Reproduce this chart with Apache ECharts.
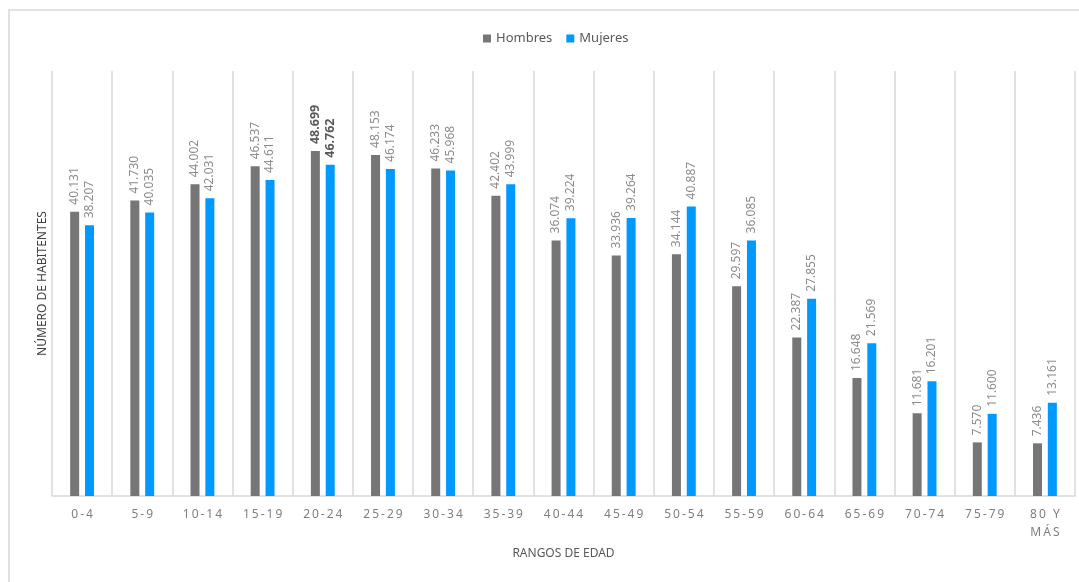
<!DOCTYPE html>
<html><head><meta charset="utf-8">
<script src="https://cdn.jsdelivr.net/npm/echarts@6/dist/echarts.min.js"></script>
<style>html,body{margin:0;padding:0;background:#fff}#c{width:1079px;height:582px}</style>
</head><body><div id="c"></div>
<script>
const categories = ['0-4','5-9','10-14','15-19','20-24','25-29','30-34','35-39','40-44','45-49','50-54','55-59','60-64','65-69','70-74','75-79','80 Y\nMÁS'];
const hombres = [40131,41730,44002,46537,48699,48153,46233,42402,36074,33936,34144,29597,22387,16648,11681,7570,7436];
const mujeres = [38207,40035,42031,44611,46762,46174,45968,43999,39224,39264,40887,36085,27855,21569,16201,11600,13161];
const highlightIndex = 4;

const FONT = 'Noto Sans';
function fmt(v){ return String(v).replace(/\B(?=(\d{3})+(?!\d))/g, '.'); }
function spaced(s){ return s.split('\n').map(l => l.split('').join('\u2009')).join('\n'); }
function mkData(arr){
  return arr.map((v,i) => i === highlightIndex
    ? {value:v, label:{fontWeight:'bold', color:'#595959', fontSize:12.5}}
    : v);
}
const labelCfg = {
  show:true, position:'top', rotate:90, align:'left', verticalAlign:'middle',
  distance:7, color:'#8c8c8c', fontFamily:FONT, fontSize:12,
  formatter: p => fmt(p.value)
};
const chart = echarts.init(document.getElementById('c'));
chart.setOption({
  animation:false,
  backgroundColor:'#fff',
  graphic:[{type:'rect', shape:{x:9, y:10, width:1200, height:700}, style:{fill:'none', stroke:'#d9d9d9', lineWidth:1.5}, silent:true}],
  legend:{
    top:27, left:478, itemWidth:8, itemHeight:8, itemGap:14,
    textStyle:{color:'#595959', fontFamily:FONT, fontSize:13},
    data:[{name:'Hombres', icon:'rect'},{name:'Mujeres', icon:'rect'}]
  },
  grid:{left:52, right:4, top:71, bottom:86},
  xAxis:{
    type:'category', data:categories,
    name:'RANGOS DE EDAD', nameLocation:'middle', nameGap:52,
    nameTextStyle:{color:'#595959', fontFamily:FONT, fontSize:12},
    axisLine:{lineStyle:{color:'#d9d9d9', width:1.5}},
    axisTick:{show:false},
    splitLine:{show:true, lineStyle:{color:'#d9d9d9', width:1.5}},
    axisLabel:{color:'#7f7f7f', fontFamily:FONT, fontSize:12, margin:10, interval:0, lineHeight:18,
      formatter: v => spaced(v)}
  },
  yAxis:{
    type:'value', min:0, max:60000,
    name:'NÚMERO DE HABITENTES', nameLocation:'middle', nameGap:3, nameRotate:90,
    nameTextStyle:{color:'#404040', fontFamily:FONT, fontSize:12},
    axisLine:{show:false}, axisTick:{show:false}, axisLabel:{show:false},
    splitLine:{show:false}
  },
  series:[
    {name:'Hombres', type:'bar', data:mkData(hombres), barWidth:9, barGap:'65%',
     itemStyle:{color:'#767676'}, label:labelCfg},
    {name:'Mujeres', type:'bar', data:mkData(mujeres), barWidth:9,
     itemStyle:{color:'#0099ff'}, label:labelCfg}
  ]
});
</script></body></html>
